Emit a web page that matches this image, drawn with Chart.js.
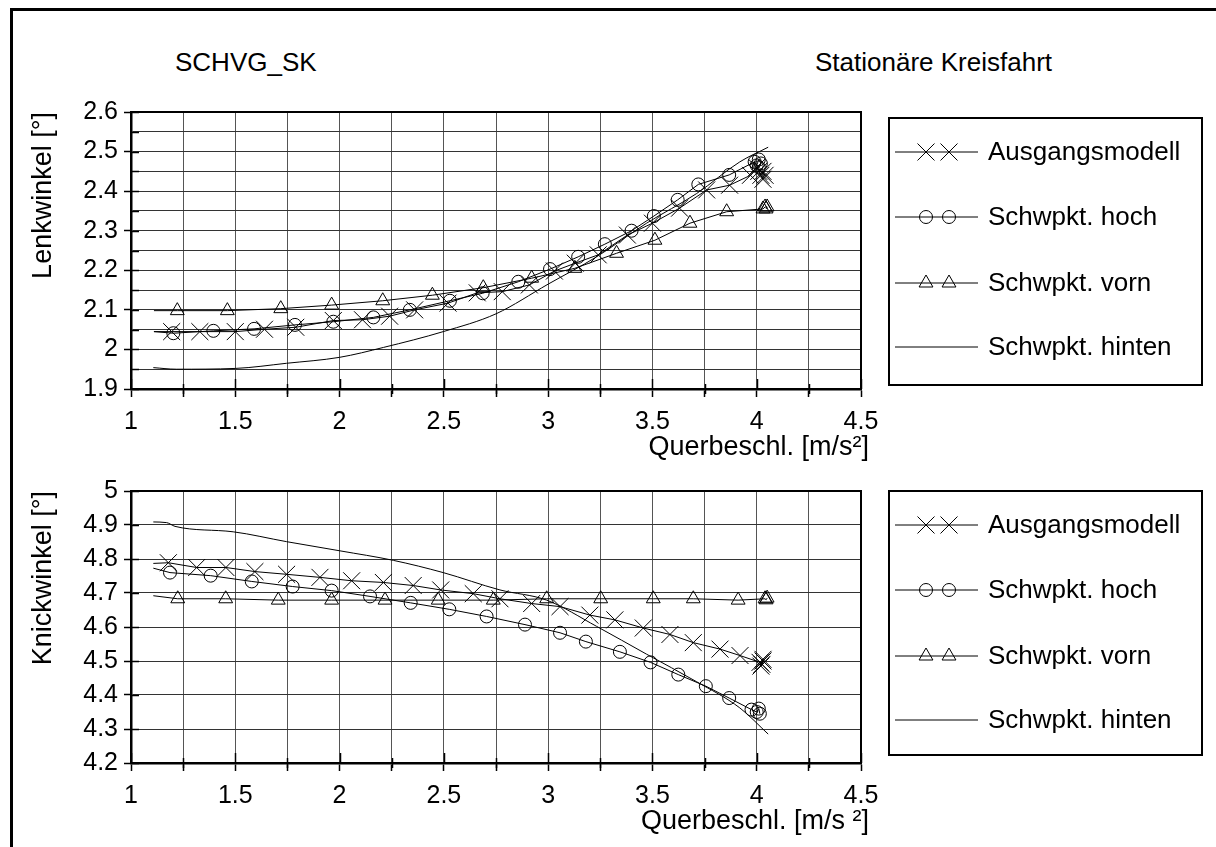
<!DOCTYPE html>
<html><head><meta charset="utf-8">
<script src="https://cdn.jsdelivr.net/npm/chart.js@4.4.1/dist/chart.umd.min.js"></script>
<style>
html,body{margin:0;padding:0;background:#fff;width:1216px;height:847px;overflow:hidden;font-family:"Liberation Sans",Arial,sans-serif;}
#frame{position:absolute;left:10px;top:8px;width:1300px;height:900px;border-left:3px solid #000;border-top:3px solid #000;}
.title{position:absolute;font-size:26px;color:#000;line-height:30px;white-space:nowrap;}
canvas{position:absolute;left:0;}
</style></head><body>
<div id="frame"></div>
<div class="title" style="left:175px;top:47px">SCHVG_SK</div>
<div class="title" style="left:815px;top:47px">Stationäre Kreisfahrt</div>
<canvas id="c1" width="1216" height="470" style="top:0"></canvas>
<canvas id="c2" width="1216" height="377" style="top:470px"></canvas>
<script>
// ---------- DATA ----------
const seriesNames = ['Ausgangsmodell', 'Schwpkt. hoch', 'Schwpkt. vorn', 'Schwpkt. hinten'];
const xTicksMajor = ['1', '1.5', '2', '2.5', '3', '3.5', '4', '4.5'];

// Lenkwinkel (top)
const ausgX_top = [1.11, 1.195, 1.33, 1.50, 1.64, 1.79, 1.97, 2.11, 2.24, 2.36, 2.52, 2.66, 2.78, 2.91, 3.03, 3.13, 3.24, 3.38, 3.50, 3.63, 3.76, 3.87, 3.97, 4.00, 4.01, 4.02, 4.03, 4.03, 4.04];
const ausgY_top = [2.045, 2.045, 2.045, 2.045, 2.051, 2.056, 2.073, 2.075, 2.084, 2.100, 2.117, 2.143, 2.146, 2.163, 2.198, 2.218, 2.239, 2.289, 2.319, 2.357, 2.403, 2.415, 2.44, 2.46, 2.45, 2.44, 2.43, 2.45, 2.44];
const hochX_top = [1.11, 1.203, 1.395, 1.59, 1.786, 1.97, 2.162, 2.337, 2.529, 2.686, 2.857, 3.009, 3.144, 3.272, 3.40, 3.507, 3.621, 3.72, 3.868, 3.99, 4.00, 4.01, 4.02, 4.01];
const hochY_top = [2.045, 2.041, 2.047, 2.052, 2.062, 2.07, 2.081, 2.10, 2.123, 2.142, 2.171, 2.203, 2.234, 2.266, 2.30, 2.337, 2.378, 2.417, 2.441, 2.474, 2.465, 2.48, 2.47, 2.46];
const vornX_top = [1.11, 1.222, 1.462, 1.718, 1.962, 2.207, 2.445, 2.689, 2.921, 3.128, 3.328, 3.512, 3.68, 3.856, 4.03, 4.04, 4.05, 4.045];
const vornY_top = [2.098, 2.098, 2.098, 2.103, 2.112, 2.123, 2.137, 2.156, 2.18, 2.205, 2.243, 2.276, 2.319, 2.348, 2.355, 2.36, 2.36, 2.355];
const hintX_top = [1.107, 1.219, 1.50, 1.746, 2.00, 2.21, 2.497, 2.75, 3.0, 3.232, 3.472, 3.712, 3.919, 4.055];
const hintY_top = [1.954, 1.95, 1.952, 1.965, 1.98, 2.005, 2.045, 2.09, 2.165, 2.234, 2.319, 2.394, 2.474, 2.511];

// Knickwinkel (bottom)
const ausgX_bot = [1.107, 1.179, 1.315, 1.455, 1.594, 1.746, 1.906, 2.058, 2.21, 2.353, 2.485, 2.641, 2.769, 2.921, 3.057, 3.20, 3.32, 3.456, 3.584, 3.696, 3.824, 3.92, 4.016, 4.02, 4.03, 4.025, 4.03];
const ausgY_bot = [4.787, 4.789, 4.775, 4.775, 4.763, 4.755, 4.746, 4.736, 4.731, 4.722, 4.709, 4.698, 4.683, 4.669, 4.66, 4.635, 4.621, 4.597, 4.578, 4.554, 4.535, 4.516, 4.496, 4.485, 4.505, 4.49, 4.50];
const hochX_bot = [1.107, 1.187, 1.382, 1.579, 1.775, 1.962, 2.146, 2.341, 2.526, 2.705, 2.889, 3.057, 3.181, 3.344, 3.491, 3.624, 3.756, 3.868, 3.975, 4.00, 4.01, 4.015];
const hochY_bot = [4.773, 4.76, 4.751, 4.734, 4.719, 4.707, 4.69, 4.671, 4.652, 4.631, 4.607, 4.583, 4.557, 4.527, 4.496, 4.46, 4.426, 4.391, 4.357, 4.35, 4.36, 4.345];
const vornX_bot = [1.107, 1.224, 1.454, 1.706, 1.962, 2.218, 2.473, 2.737, 2.993, 3.252, 3.504, 3.696, 3.911, 4.04, 4.045, 4.05];
const vornY_bot = [4.692, 4.683, 4.683, 4.679, 4.679, 4.679, 4.679, 4.679, 4.683, 4.683, 4.683, 4.683, 4.679, 4.683, 4.68, 4.685];
const hintX_bot = [1.107, 1.171, 1.211, 1.49, 1.746, 2.002, 2.258, 2.497, 2.769, 2.993, 3.232, 3.472, 3.712, 3.919, 4.055];
const hintY_bot = [4.909, 4.907, 4.896, 4.88, 4.851, 4.824, 4.796, 4.76, 4.709, 4.679, 4.602, 4.52, 4.439, 4.362, 4.285];

// ---------- STYLE ----------
const FONT = '"Liberation Sans", Arial, sans-serif';
const MARK = [{style:'crossRot', r:12}, {style:'circle', r:6.5}, {style:'triangle', r:8}, {style:false, r:0}];

function pts(xs, ys){ return xs.map((x,i)=>({x:x, y:ys[i]})); }
function isMult(v, m){ const q = v/m; return Math.abs(q-Math.round(q)) < 1e-6; }
function fmt(v){ return String(Math.round(v*10)/10); }

function makeDatasets(groups){
  return groups.map((g, i) => ({
    label: seriesNames[i],
    data: pts(g[0], g[1]),
    showLine: true,
    borderColor: '#000',
    borderWidth: 1,
    pointStyle: MARK[i].style,
    markerRadius: MARK[i].r,
    pointRadius: ctx => (ctx.dataIndex === 0 ? 0 : MARK[i].r),
    pointHoverRadius: 0,
    pointBorderColor: '#000',
    pointBorderWidth: 1,
    pointBackgroundColor: 'rgba(0,0,0,0)',
    tension: i === 3 ? 0.4 : 0,
    cubicInterpolationMode: i === 3 ? 'monotone' : 'default'
  }));
}

const decor = {
  id: 'decor',
  afterDraw(chart, args, opts){
    const {ctx, chartArea:a} = chart;
    const xs = chart.scales.x, ys = chart.scales.y;
    ctx.save();
    ctx.strokeStyle = '#000';
    ctx.lineWidth = 2;
    ctx.beginPath(); ctx.moveTo(a.left, a.top); ctx.lineTo(a.right, a.top); ctx.lineTo(a.right, a.bottom); ctx.stroke();
    ctx.lineWidth = 1.5;
    xs.ticks.forEach(t => {
      const px = Math.round(xs.getPixelForValue(t.value)) + 0.5;
      const len = isMult(t.value, 0.5) ? 10 : 5;
      ctx.beginPath(); ctx.moveTo(px, a.bottom); ctx.lineTo(px, a.bottom - len); ctx.stroke();
      if (!isMult(t.value, 0.5)) { ctx.beginPath(); ctx.moveTo(px, a.bottom); ctx.lineTo(px, a.bottom + 5); ctx.stroke(); }
    });
    ys.ticks.forEach(t => {
      const py = Math.round(ys.getPixelForValue(t.value)) + 0.5;
      ctx.beginPath(); ctx.moveTo(a.left, py); ctx.lineTo(a.left + 8, py); ctx.stroke();
    });
    // x axis title
    ctx.fillStyle = '#000';
    ctx.font = '27px ' + FONT;
    ctx.textAlign = 'right';
    ctx.textBaseline = 'middle';
    ctx.fillText(opts.xTitle, opts.xTitleRight, opts.xTitleY);
    // legend box
    const L = opts;
    ctx.lineWidth = 2;
    ctx.strokeRect(L.left, L.top, L.width, L.height);
    chart.data.datasets.forEach((ds, i) => {
      const y = L.top + L.rows[i];
      ctx.lineWidth = 1; ctx.strokeStyle = '#000';
      ctx.beginPath(); ctx.moveTo(L.left + 6, y); ctx.lineTo(L.left + 89, y); ctx.stroke();
      if (ds.pointStyle) {
        ctx.fillStyle = 'rgba(0,0,0,0)';
        [L.left + 37, L.left + 60].forEach(mx => {
          Chart.helpers.drawPoint(ctx, {pointStyle: ds.pointStyle, radius: ds.markerRadius, borderWidth: 1, rotation: 0}, mx, y);
        });
      }
      ctx.fillStyle = '#000';
      ctx.font = '26px ' + FONT;
      ctx.textBaseline = 'middle';
      ctx.textAlign = 'left';
      ctx.fillText(ds.label, L.left + 99, y + 1);
    });
    ctx.restore();
  }
};

function makeChart(id, groups, cfg){
  return new Chart(document.getElementById(id), {
    type: 'scatter',
    data: { datasets: makeDatasets(groups) },
    plugins: [decor],
    options: {
      responsive: false,
      animation: false,
      devicePixelRatio: 1,
      layout: { padding: { left: 0, top: cfg.padTop, right: 355, bottom: 0 } },
      plugins: {
        legend: { display: false },
        tooltip: { enabled: false },
        decor: { left: 889, top: cfg.legTop, width: 313, height: cfg.legH, rows: [34, 99, 165, 229],
                 xTitle: cfg.xTitle, xTitleRight: 869, xTitleY: cfg.xTitleY }
      },
      scales: {
        x: {
          type: 'linear', min: 1, max: 4.5,
          ticks: { stepSize: 0.25, autoSkip: false, maxRotation: 0, padding: 10, color: '#000',
                   font: { size: 25, family: FONT },
                   callback: v => isMult(v, 0.5) ? xTicksMajor[Math.round((v - 1) / 0.5)] : '' },
          grid: { color: '#555', lineWidth: 1, tickLength: 8, tickColor: '#000', tickWidth: 1.5 },
          border: { color: '#000', width: 2.5 },
          title: { display: false },
          afterFit: s => { s.height = cfg.xAxisH; }
        },
        y: {
          type: 'linear', min: cfg.yMin, max: cfg.yMax,
          ticks: { stepSize: cfg.yStep, autoSkip: false, padding: 6, color: '#000',
                   font: { size: 25, family: FONT },
                   callback: v => isMult(v, 0.1) ? fmt(v) : '' },
          grid: { color: '#333', lineWidth: 1, tickLength: 7, tickWidth: 1.5,
                  tickColor: c => (c.tick && isMult(c.tick.value, 0.1)) ? '#000' : 'rgba(0,0,0,0)' },
          border: { color: '#000', width: 2.5 },
          title: { display: true, text: cfg.yTitle, align: 'end', color: '#000',
                   font: { size: 27, family: FONT }, padding: { top: 27, bottom: 0 } },
          afterFit: s => { s.width = 131; }
        }
      }
    }
  });
}

makeChart('c1', [[ausgX_top, ausgY_top], [hochX_top, hochY_top], [vornX_top, vornY_top], [hintX_top, hintY_top]], {
  padTop: 112, xAxisH: 81, xTitleY: 448, yMin: 1.9, yMax: 2.6, yStep: 0.05,
  xTitle: 'Querbeschl. [m/s²]', yTitle: 'Lenkwinkel [°]', legTop: 118, legH: 267
});
makeChart('c2', [[ausgX_bot, ausgY_bot], [hochX_bot, hochY_bot], [vornX_bot, vornY_bot], [hintX_bot, hintY_bot]], {
  padTop: 15, xAxisH: 84, xTitleY: 352, yMin: 4.2, yMax: 5.0, yStep: 0.1,
  xTitle: 'Querbeschl. [m/s ²]', yTitle: 'Knickwinkel [°]', legTop: 21, legH: 264
});
</script>
</body></html>
